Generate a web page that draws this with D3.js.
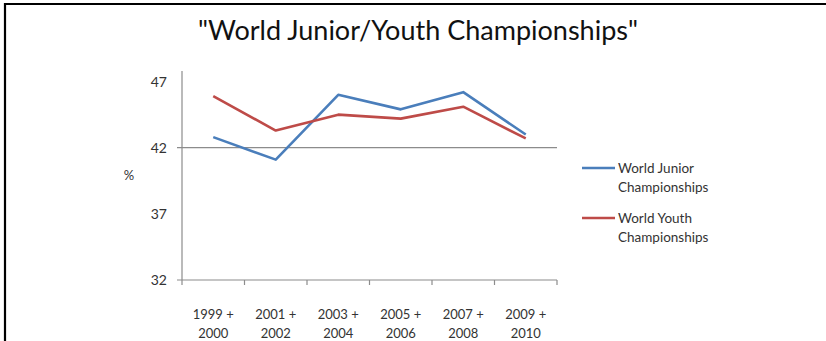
<!DOCTYPE html>
<html>
<head>
<meta charset="utf-8">
<script src="https://cdn.jsdelivr.net/npm/d3@7"></script>
<style>
  body { margin: 0; background: #fff; }
  svg { display: block; font-family: Lato, "Open Sans", sans-serif; }
</style>
</head>
<body>
<div id="chart"></div>
<script>
// data
const periods = ["1999 +|2000", "2001 +|2002", "2003 +|2004", "2005 +|2006", "2007 +|2008", "2009 +|2010"];
const juniorValues = [42.8, 41.1, 46.0, 44.9, 46.2, 43.0];
const youthValues = [45.9, 43.3, 44.5, 44.2, 45.1, 42.7];
const yTicks = [32, 37, 42, 47];
const seriesNames = ["World Junior|Championships", "World Youth|Championships"];
const seriesColors = ["#4a7ebb", "#be4b48"];

const width = 826, height = 341;
const plot = {left: 182, right: 557, top: 71, bottom: 280};

const svg = d3.select("#chart").append("svg")
    .attr("width", width)
    .attr("height", height);

// frame (top and left edges only are visible)
svg.append("path")
    .attr("d", "M5,341 L5,4 L826,4")
    .attr("fill", "none")
    .attr("stroke", "#000")
    .attr("stroke-width", 2.2);

// title
svg.append("text")
    .attr("x", 418)
    .attr("y", 40)
    .attr("text-anchor", "middle")
    .style("font-size", "26px")
    .style("fill", "#111")
    .attr("textLength", 440)
    .attr("lengthAdjust", "spacingAndGlyphs")
    .text("\"World Junior/Youth Championships\"");

// scales
let x = d3.scaleBand()
    .domain(periods)
    .range([plot.left, plot.right])
    .paddingInner(0);

let y = d3.scaleLinear()
    .domain([32, 47.8])
    .range([plot.bottom, plot.top]);

// y axis (labels only, line drawn separately)
let yAxis = d3.axisLeft(y)
    .tickValues(yTicks)
    .tickSize(0)
    .tickPadding(15);

svg.append("g")
    .attr("class", "y-axis")
    .attr("transform", "translate(" + plot.left + ",0)")
    .call(yAxis)
    .call(g => g.select(".domain").remove())
    .call(g => g.selectAll("text").style("font-size", "14px").style("fill", "#333").style("font-family", "Lato, sans-serif"));

// gridline at 42
svg.append("line")
    .attr("x1", plot.left - 5).attr("x2", plot.right)
    .attr("y1", y(42)).attr("y2", y(42))
    .attr("stroke", "#8c8c8c").attr("stroke-width", 1.2);

// axis lines
svg.append("line")
    .attr("x1", plot.left).attr("x2", plot.left)
    .attr("y1", plot.top).attr("y2", plot.bottom)
    .attr("stroke", "#8c8c8c").attr("stroke-width", 1.2);

svg.append("line")
    .attr("x1", plot.left - 5).attr("x2", plot.right)
    .attr("y1", plot.bottom).attr("y2", plot.bottom)
    .attr("stroke", "#8c8c8c").attr("stroke-width", 1.2);

// x tick marks at category boundaries
let boundaries = periods.map(d => x(d)).concat([plot.right]);
svg.selectAll(".x-tick")
    .data(boundaries)
    .enter().append("line")
    .attr("class", "x-tick")
    .attr("x1", d => d).attr("x2", d => d)
    .attr("y1", plot.bottom).attr("y2", plot.bottom + 5)
    .attr("stroke", "#8c8c8c").attr("stroke-width", 1.2);

// x labels (two lines each)
let xAxis = d3.axisBottom(x).tickSize(0).tickFormat("");
let xg = svg.append("g")
    .attr("class", "x-axis")
    .attr("transform", "translate(0," + plot.bottom + ")")
    .call(xAxis)
    .call(g => g.select(".domain").remove());

xg.selectAll(".tick").each(function(d) {
    let tick = d3.select(this);
    tick.select("text").remove();
    let t = tick.append("text")
        .attr("text-anchor", "middle")
        .attr("fill", "#333")
        .style("font-size", "13px")
        .style("font-family", "Lato, sans-serif");
    d.split("|").forEach((l, i) => {
        t.append("tspan")
            .attr("x", 0)
            .attr("y", 39 + i * 19)
            .text(l);
    });
});

// % label
svg.append("text")
    .attr("x", 129)
    .attr("y", 180)
    .attr("text-anchor", "middle")
    .style("font-size", "13px")
    .style("fill", "#333")
    .text("%");

// lines
let line = d3.line()
    .x((d, i) => x(periods[i]) + x.bandwidth() / 2)
    .y(d => y(d));

[juniorValues, youthValues].forEach((vals, k) => {
    svg.append("path")
        .datum(vals)
        .attr("fill", "none")
        .attr("stroke", seriesColors[k])
        .attr("stroke-width", 2.6)
        .attr("stroke-linejoin", "round")
        .attr("d", line);
});

// legend
let legendY = [168, 218];
seriesNames.forEach((name, k) => {
    let g = svg.append("g").attr("transform", "translate(582," + legendY[k] + ")");
    g.append("line")
        .attr("x1", 0).attr("x2", 33)
        .attr("y1", 0).attr("y2", 0)
        .attr("stroke", seriesColors[k])
        .attr("stroke-width", 2.6);
    let t = g.append("text")
        .style("font-size", "13.5px")
        .style("fill", "#333");
    name.split("|").forEach((l, i) => {
        t.append("tspan")
            .attr("x", 36)
            .attr("y", 5 + i * 19)
            .text(l);
    });
});
</script>
</body>
</html>
